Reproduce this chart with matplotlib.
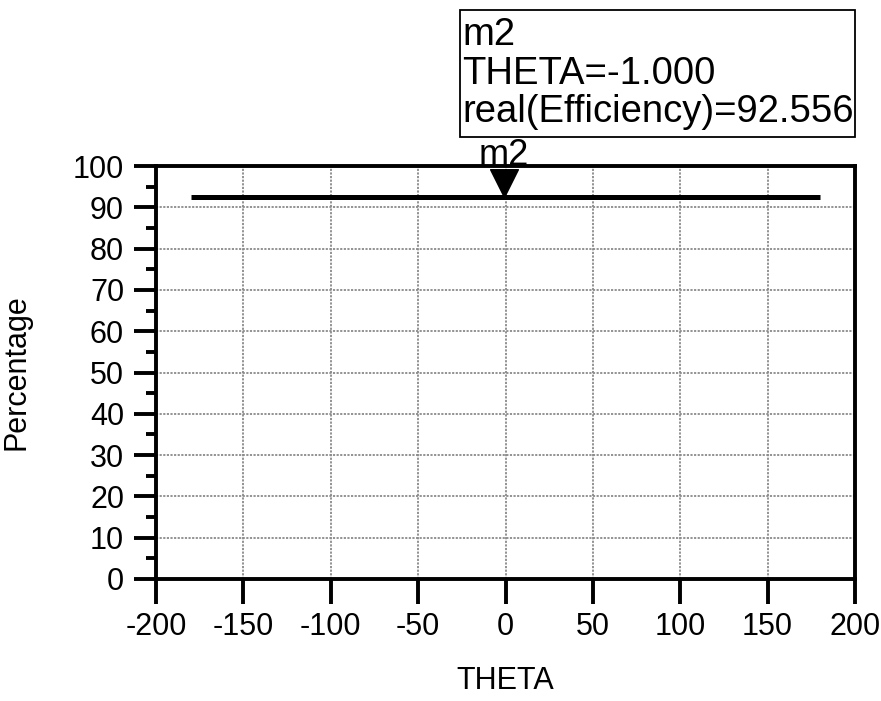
import matplotlib
matplotlib.use("Agg")
import matplotlib.pyplot as plt
from matplotlib.path import Path
from matplotlib.patches import Rectangle
from matplotlib.ticker import MultipleLocator

plt.rcParams['font.family'] = ['Liberation Sans', 'DejaVu Sans']
plt.rcParams['axes.unicode_minus'] = False

# Efficiency sweep over THETA
theta = [-180, 180]
efficiency = [92.556, 92.556]

# Marker m2
marker_name = "m2"
marker_theta = -1.000
marker_eff = 92.556

x_ticks = [-200, -150, -100, -50, 0, 50, 100, 150, 200]
y_ticks = [0, 10, 20, 30, 40, 50, 60, 70, 80, 90, 100]

W, H = 881, 701
fig = plt.figure(figsize=(W / 100, H / 100), dpi=100)
ax = fig.add_axes([156 / W, 1 - 579 / H, (855 - 156) / W, (579 - 166) / H])

ax.plot(theta, efficiency, color='black', lw=3.6, solid_capstyle='butt', zorder=3)

ax.set_xlim(-200, 200)
ax.set_ylim(0, 100)
ax.set_xticks(x_ticks)
ax.set_yticks(y_ticks)
ax.yaxis.set_minor_locator(MultipleLocator(5))

ax.grid(True, which='major', color='#8a8a8a', lw=1.3, ls=(0, (1.2, 0.8)), zorder=1)

for s in ax.spines.values():
    s.set_linewidth(2.8)
    s.set_color('black')

ax.tick_params(axis='both', which='major', direction='out', width=2.8,
               labelsize=22, colors='black')
ax.tick_params(axis='y', which='major', length=16, pad=7)
ax.tick_params(axis='x', which='major', length=18, pad=6)
ax.tick_params(axis='y', which='minor', direction='out', length=7, width=2.8)

ax.set_xlabel('THETA', fontsize=22, labelpad=17)
ax.set_ylabel('Percentage', fontsize=22, labelpad=30)

# Downward triangle marker with its tip on the data point
tri = Path([(-0.5, 1.0), (0.5, 1.0), (0.0, 0.0), (-0.5, 1.0)],
           [Path.MOVETO, Path.LINETO, Path.LINETO, Path.CLOSEPOLY])
ax.plot([marker_theta], [marker_eff], marker=tri, markersize=40,
        color='black', ls='none', clip_on=False, zorder=4)
ax.annotate(marker_name, xy=(marker_theta, marker_eff), xytext=(0, 23),
            textcoords='offset points', ha='center', va='baseline',
            fontsize=26, annotation_clip=False)

# Marker readout box
fig.patches.append(Rectangle((460 / W, 1 - 137 / H), 395 / W, 127 / H,
                             transform=fig.transFigure, fill=False,
                             ec='black', lw=1.3))
readout = [marker_name,
           f"THETA={marker_theta:.3f}",
           f"real(Efficiency)={marker_eff:.3f}"]
for i, line in enumerate(readout):
    fig.text(462 / W, 1 - (45 + 38.5 * i) / H, line, fontsize=27.5,
             ha='left', va='baseline')

fig.savefig('out.png', dpi=100)
